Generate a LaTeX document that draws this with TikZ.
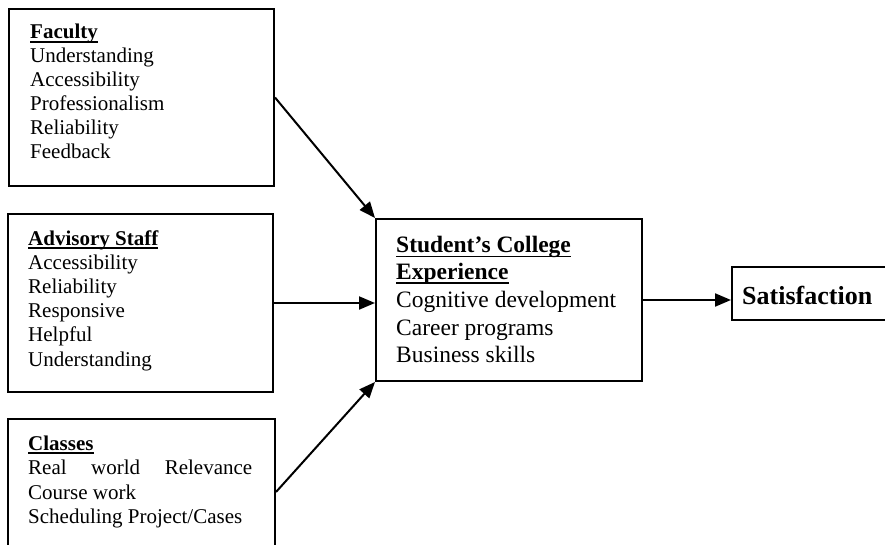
\documentclass[tikz,border=0pt]{standalone}
\usepackage{fontspec}
\setmainfont{Liberation Serif}
\usetikzlibrary{arrows.meta}
\tikzset{
  box/.style={draw, line width=2pt, inner sep=0pt, minimum width=#1},
  lft/.style={anchor=base west, inner sep=0pt, font=\fontsize{21}{24}\selectfont},
  mid/.style={anchor=base west, inner sep=0pt, font=\fontsize{23.5}{27}\selectfont},
  ul/.style={line width=1.7pt},
  arr/.style={line width=2pt, -{Triangle[length=16pt,width=13pt]}},
}
\begin{document}
\begin{tikzpicture}[x=1pt,y=-1pt]
\useasboundingbox (0,0) rectangle (885,545);
% boxes
\node[box=265pt, minimum height=177pt] (fac) at (141.5,97.5) {};
\node[box=265pt, minimum height=178pt] (adv) at (140.5,303) {};
\node[box=267pt, minimum height=146pt] (cls) at (141.5,492) {};
\node[box=266pt, minimum height=162pt] (sce) at (509,300) {};
\node[box=173pt, minimum height=53pt] (sat) at (818.5,293.5) {};
% Faculty
\node[lft] (f0) at (30,39) {\bfseries Faculty};
\node[lft] (f1) at (30,63) {Understanding};
\node[lft] (f2) at (30,87) {Accessibility};
\node[lft] (f3) at (30,111) {Professionalism};
\node[lft] (f4) at (30,135) {Reliability};
\node[lft] (f5) at (30,159) {Feedback};
\draw[ul] ([yshift=-3pt]f0.base west) -- ([yshift=-3pt]f0.base east);
% Advisory Staff
\node[lft] (a0) at (28,245) {\bfseries Advisory Staff};
\node[lft] (a1) at (28,269) {Accessibility};
\node[lft] (a2) at (28,293) {Reliability};
\node[lft] (a3) at (28,317) {Responsive};
\node[lft] (a4) at (28,341) {Helpful};
\node[lft] (a5) at (28,366) {Understanding};
\draw[ul] ([yshift=-3pt]a0.base west) -- ([yshift=-3pt]a0.base east);
% Classes
\node[lft] (c0) at (28,450) {\bfseries Classes};
\node[lft] (c1) at (28,474) {\makebox[224pt][s]{Real world Relevance}};
\node[lft] (c2) at (28,499) {Course work};
\node[lft] (c3) at (28,523) {Scheduling Project/Cases};
\draw[ul] ([yshift=-3pt]c0.base west) -- ([yshift=-3pt]c0.base east);
% Student's College Experience
\node[mid] (s0) at (396,252) {\bfseries Student’s College};
\node[mid] (s1) at (396,279.5) {\bfseries Experience};
\node[mid] (s2) at (396,307) {Cognitive development};
\node[mid] (s3) at (396,335) {Career programs};
\node[mid] (s4) at (396,362.5) {Business skills};
\draw[ul, line width=1.9pt] ([yshift=-4.5pt]s0.base west) -- ([yshift=-4.5pt]s0.base east);
\draw[ul, line width=1.9pt] ([yshift=-3.5pt]s1.base west) -- ([yshift=-3.5pt]s1.base east);
% Satisfaction
\node[anchor=base west, inner sep=0pt, font=\fontsize{26}{30}\selectfont\bfseries] (sl) at (742,304) {Satisfaction};
% connectors
\draw[arr] (fac.east) -- (sce.north west);
\draw[arr] (adv.east) -- (adv.east -| sce.west);
\draw[arr] (cls.east) -- (sce.south west);
\draw[arr] (sce.east) -- (sce.east -| sat.west);
\end{tikzpicture}
\end{document}
